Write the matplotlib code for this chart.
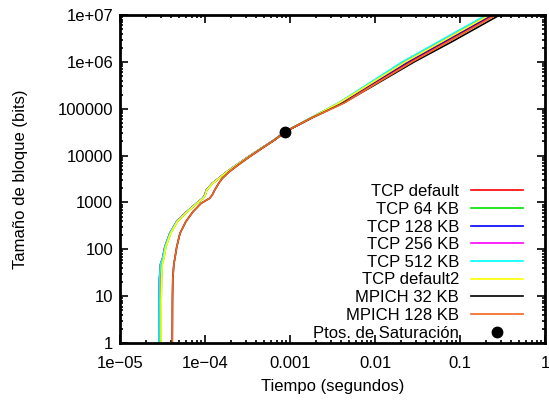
import matplotlib
matplotlib.use("Agg")
import matplotlib.pyplot as plt
from matplotlib.ticker import LogLocator, FixedLocator, NullFormatter

plt.rcParams['font.family'] = ['Liberation Sans', 'DejaVu Sans']

# Block sizes (bits) shared by every series
bits = [1, 8, 24, 48, 64, 112, 220, 390, 630, 960, 1220, 1450, 1840, 2560,
        3270, 4530, 6290, 9460, 14300, 21500, 32300, 65000, 134000, 300000,
        1.0e6, 2.7e6, 9.2e6, 2.0e7]

# Transfer time (seconds) for each block size
t_tcp_default = [2.90e-5, 2.91e-5, 2.94e-5, 3.02e-5, 3.18e-5, 3.38e-5, 3.87e-5, 4.65e-5,
                 6.1e-5, 7.98e-5, 9.4e-5, 1.0e-4, 1.04e-4, 1.22e-4, 1.45e-4, 1.82e-4,
                 2.35e-4, 3.25e-4, 4.6e-4, 6.5e-4, 8.8e-4, 1.83e-3, 3.95e-3, 8.4e-3,
                 0.0255, 0.068, 0.228, 0.492]
t_tcp_64 = [3.04e-5, 3.05e-5, 3.08e-5, 3.14e-5, 3.28e-5, 3.46e-5, 3.95e-5, 4.72e-5,
            6.18e-5, 8.06e-5, 9.5e-5, 1.01e-4, 1.05e-4, 1.23e-4, 1.46e-4, 1.83e-4,
            2.36e-4, 3.26e-4, 4.61e-4, 6.51e-4, 8.8e-4, 1.80e-3, 3.80e-3, 7.65e-3,
            0.0218, 0.0582, 0.195, 0.421]
t_tcp_128 = [2.88e-5, 2.89e-5, 2.92e-5, 3.0e-5, 3.18e-5, 3.38e-5, 3.87e-5, 4.65e-5,
             6.1e-5, 7.98e-5, 9.4e-5, 1.0e-4, 1.04e-4, 1.22e-4, 1.45e-4, 1.82e-4,
             2.35e-4, 3.25e-4, 4.6e-4, 6.5e-4, 8.8e-4, 1.82e-3, 3.90e-3, 8.1e-3,
             0.0241, 0.0645, 0.216, 0.466]
t_tcp_256 = [2.87e-5, 2.88e-5, 2.91e-5, 2.99e-5, 3.16e-5, 3.36e-5, 3.85e-5, 4.62e-5,
             6.07e-5, 7.95e-5, 9.35e-5, 0.99e-4, 1.035e-4, 1.215e-4, 1.445e-4, 1.815e-4,
             2.34e-4, 3.24e-4, 4.59e-4, 6.49e-4, 8.8e-4, 1.80e-3, 3.82e-3, 7.75e-3,
             0.0223, 0.0597, 0.200, 0.432]
t_tcp_512 = [2.88e-5, 2.89e-5, 2.92e-5, 3.0e-5, 3.17e-5, 3.37e-5, 3.86e-5, 4.64e-5,
             6.09e-5, 7.97e-5, 9.38e-5, 1.0e-4, 1.04e-4, 1.22e-4, 1.45e-4, 1.82e-4,
             2.35e-4, 3.25e-4, 4.6e-4, 6.5e-4, 8.8e-4, 1.78e-3, 3.75e-3, 7.5e-3,
             0.021, 0.0561, 0.188, 0.406]
t_tcp_default2 = [3.04e-5, 3.05e-5, 3.08e-5, 3.14e-5, 3.28e-5, 3.46e-5, 3.95e-5, 4.72e-5,
                  6.18e-5, 8.06e-5, 9.5e-5, 1.01e-4, 1.05e-4, 1.23e-4, 1.46e-4, 1.83e-4,
                  2.36e-4, 3.26e-4, 4.61e-4, 6.51e-4, 8.8e-4, 1.80e-3, 3.82e-3, 7.85e-3,
                  0.0229, 0.0612, 0.205, 0.443]
t_mpich_32 = [4.12e-5, 4.14e-5, 4.18e-5, 4.3e-5, 4.42e-5, 4.65e-5, 5.08e-5, 5.95e-5,
              7.2e-5, 9.0e-5, 1.13e-4, 1.22e-4, 1.30e-4, 1.45e-4, 1.6e-4, 1.93e-4,
              2.45e-4, 3.35e-4, 4.7e-4, 6.6e-4, 8.8e-4, 1.85e-3, 4.3e-3, 9.3e-3,
              0.029, 0.0806, 0.270, 0.583]
t_mpich_128 = [4.12e-5, 4.14e-5, 4.18e-5, 4.3e-5, 4.42e-5, 4.65e-5, 5.08e-5, 5.95e-5,
               7.2e-5, 9.0e-5, 1.13e-4, 1.22e-4, 1.30e-4, 1.45e-4, 1.6e-4, 1.93e-4,
               2.45e-4, 3.35e-4, 4.7e-4, 6.6e-4, 8.8e-4, 1.85e-3, 4.4e-3, 9.1e-3,
               0.0274, 0.0732, 0.245, 0.529]

series = [
    ("TCP default", t_tcp_default, "#ff0000"),
    ("TCP 64 KB", t_tcp_64, "#00e000"),
    ("TCP 128 KB", t_tcp_128, "#0000ff"),
    ("TCP 256 KB", t_tcp_256, "#ff00ff"),
    ("TCP 512 KB", t_tcp_512, "#00ffff"),
    ("TCP default2", t_tcp_default2, "#ffff00"),
    ("MPICH 32 KB", t_mpich_32, "#000000"),
    ("MPICH 128 KB", t_mpich_128, "#f26522"),
]

# Saturation point
sat_time = [8.8e-4]
sat_bits = [31300]

x_ticks = [1e-5, 1e-4, 1e-3, 1e-2, 1e-1, 1]
x_labels = ["1e\u221205", "1e\u221204", "0.001", "0.01", "0.1", "1"]
y_ticks = [1, 10, 100, 1000, 1e4, 1e5, 1e6, 1e7]
y_labels = ["1", "10", "100", "1000", "10000", "100000", "1e+06", "1e+07"]

FS = 12

fig = plt.figure(figsize=(5.49, 4.00), dpi=100)
ax = fig.add_axes([120 / 549, 57 / 400, 425 / 549, 328 / 400])

for label, t, color in series:
    ax.plot(t, bits, color=color, lw=1.2, label=label)
ax.plot(sat_time, sat_bits, 'o', color='black', markersize=7.5, label="Ptos. de Saturaci\u00f3n")

ax.set_xscale('log')
ax.set_yscale('log')
ax.set_xlim(1e-5, 1)
ax.set_ylim(1, 1e7)

ax.xaxis.set_major_locator(FixedLocator(x_ticks))
ax.set_xticklabels(x_labels)
ax.yaxis.set_major_locator(FixedLocator(y_ticks))
ax.set_yticklabels(y_labels)
ax.xaxis.set_minor_locator(LogLocator(base=10, subs=range(2, 10), numticks=20))
ax.yaxis.set_minor_locator(LogLocator(base=10, subs=range(2, 10), numticks=20))
ax.xaxis.set_minor_formatter(NullFormatter())
ax.yaxis.set_minor_formatter(NullFormatter())

ax.tick_params(which='both', direction='in', top=True, right=True, labelsize=FS,
               colors='black', width=1.2)
ax.tick_params(which='major', length=5.5)
ax.tick_params(axis='y', which='major', pad=5)
ax.tick_params(axis='x', which='major', pad=9)
ax.tick_params(which='minor', length=2.5)
for s in ax.spines.values():
    s.set_linewidth(2)

ax.set_xlabel("Tiempo (segundos)", fontsize=FS, labelpad=6)
ax.set_ylabel("Tama\u00f1o de bloque (bits)", fontsize=FS, labelpad=21)

leg = ax.legend(loc='lower right', frameon=False, fontsize=FS, markerfirst=False,
                handlelength=3.1, handletextpad=0.7, labelspacing=0.16,
                borderaxespad=0.0, borderpad=0.15, bbox_to_anchor=(0.953, 0.0))
for t in leg.get_texts():
    t.set_ha('right')

fig.savefig("out.png", dpi=100)
